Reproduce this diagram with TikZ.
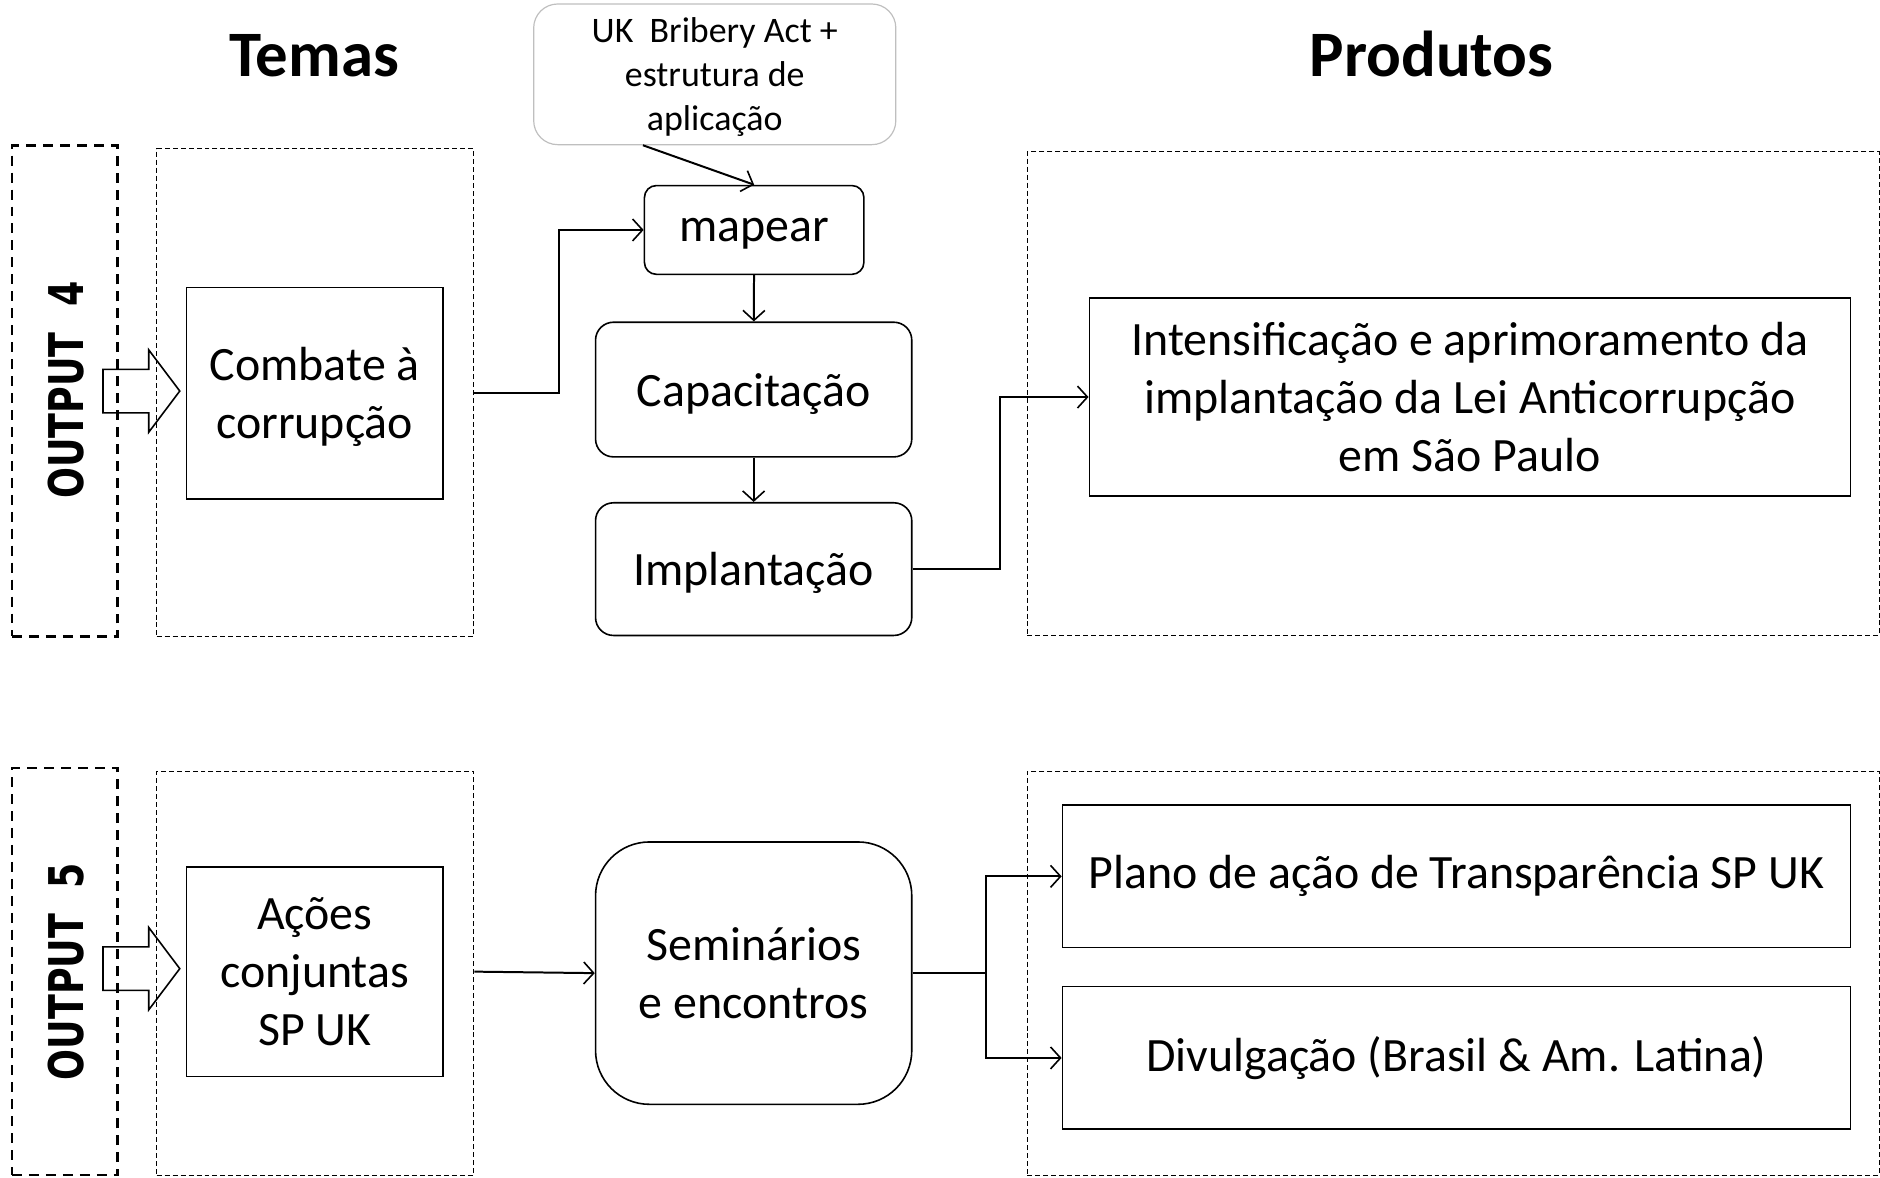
\documentclass[tikz,border=0pt]{standalone}
\usepackage{fontspec}
\setmainfont{Carlito}
\newfontfamily\outfont{DejaVu Sans}
\usepackage{tikz}
\usetikzlibrary{shapes.arrows}
\usetikzlibrary{arrows.meta}
\usetikzlibrary{calc}
\usepackage{xcolor}

\begin{document}
\begin{tikzpicture}[x=0.5pt, y=-0.5pt]
        % ================= 样式定义 =================
        \tikzset{
            % 标题
            titletext/.style={font=\fontsize{32.5}{38}\selectfont\bfseries},
            % OUTPUT 外框 (粗虚线)
            outbox/.style={draw=black, line width=1.3pt, dash pattern=on 5pt off 3.5pt, minimum width=53pt, inner sep=0pt},
            outtext/.style={rotate=90, font=\outfont\bfseries\fontsize{24}{28}\selectfont},
            % 分组虚线框 (细虚线)
            groupbox/.style={draw=black, line width=0.6pt, dash pattern=on 2.5pt off 1.5pt, inner sep=0pt},
            % 方框
            sqbox/.style={draw=black, line width=0.8pt, align=center, inner sep=2pt, font=\fontsize{24}{29}\selectfont},
            % 圆角框
            rbox/.style={sqbox, rounded corners=9pt},
            % 去掉下伸部分
            nodesc/.style={text depth=0pt},
            % 输入框 (灰色边)
            inbox/.style={draw=black!25, line width=0.6pt, rounded corners=12pt, align=center, font=\fontsize{18}{22}\selectfont},
            % 空心大箭头
            bigarrow/.style={single arrow, draw=black, line width=0.8pt, minimum height=38.5pt, inner xsep=0pt, inner ysep=10.5pt, single arrow head extend=9.75pt, single arrow tip angle=106},
            % 连线
            conn/.style={line width=1pt, black, -{Straight Barb[length=5pt, width=11pt, line width=0.8pt]}},
            link/.style={line width=1pt, black}
        }

        % ================= 1. 标题 =================
        \node[titletext] (tTemas) at (315,56) {Temas};
        \node[titletext] (tProd) at (1435,54) {Produtos};

        % ================= 2. OUTPUT 4 =================
        \node[outbox, minimum height=246pt] (out4) at (65,392) {};
        \node[outtext] (lab4) at (66,391) {\scalebox{0.76}[1]{OUTPUT\ \ 4}};
        \node[groupbox, minimum width=159pt, minimum height=244.5pt] (temas4) at (316,393.5) {};
        \node[groupbox, minimum width=427pt, minimum height=242.5pt] (prod4) at (1457,394.5) {};

        \node[sqbox, nodesc, minimum width=128.5pt, minimum height=106pt] (combate) at (315.5,394) {Combate à\\corrupção};
        \node[inbox, nodesc, minimum width=181.5pt, minimum height=70.5pt] (uk) at (716.5,74.5) {UK\ \ Bribery Act +\\estrutura de\\aplicação};
        \node[rbox, nodesc, rounded corners=6pt, minimum width=110pt, minimum height=44.5pt] (mapear) at (756,230.5) {mapear};
        \node[rbox, nodesc, minimum width=158.5pt, minimum height=67.5pt] (capac) at (755.5,390.5) {Capacitação};
        \node[rbox, nodesc, minimum width=158.5pt, minimum height=66.5pt] (implant) at (755.5,570.5) {Implantação};
        \node[sqbox, minimum width=381.5pt, minimum height=99pt] (intens) at (1473.5,398) {Intensificação e aprimoramento da\\implantação da Lei Anticorrupção\\em São Paulo};

        \node[bigarrow] (arr4) at (133.5,392) {};

        % ================= 3. OUTPUT 5 =================
        \node[outbox, minimum height=204pt] (out5) at (65,974) {};
        \node[outtext] (lab5) at (66,974) {\scalebox{0.76}[1]{OUTPUT\ \ 5}};
        \node[groupbox, minimum width=159pt, minimum height=202.5pt] (temas5) at (316,975.5) {};
        \node[groupbox, minimum width=427pt, minimum height=202.5pt] (prod5) at (1457,975.5) {};

        \node[sqbox, minimum width=128.5pt, minimum height=105pt] (acoes) at (315.5,974) {Ações\\conjuntas\\SP UK};
        \node[rbox, rounded corners=27pt, minimum width=158.5pt, minimum height=131.5pt] (semin) at (755.5,975.5) {Seminários\\e encontros};
        \node[sqbox, minimum width=395pt, minimum height=71.5pt] (plano) at (1460,878.5) {Plano de ação de Transparência SP UK};
        \node[sqbox, minimum width=395pt, minimum height=71.5pt] (divulg) at (1460,1060.5) {Divulgação (Brasil \& Am. Latina)};

        \node[bigarrow] (arr5) at (133.5,971) {};

        % ================= 4. 连线 =================
        \draw[conn] (combate.east -| temas4.east) -- ++(85,0) |- (mapear.west);
        \draw[conn] ($(uk.south)+(-72,0)$) -- (mapear.north);
        \draw[conn] (mapear) -- (capac);
        \draw[conn] (capac) -- (implant);
        \draw[conn] (implant.east) -- ++(88,0) |- (intens.west);

        \draw[conn] (acoes.east -| temas5.east) -- (semin.west);
        \draw[link] (semin.east) -- ++(74,0) coordinate (split);
        \draw[conn] (split) |- (plano.west);
        \draw[conn] (split) |- (divulg.west);

        % 边界
        \useasboundingbox (0,0) rectangle (1880,1180);
    \end{tikzpicture}
\end{document}
